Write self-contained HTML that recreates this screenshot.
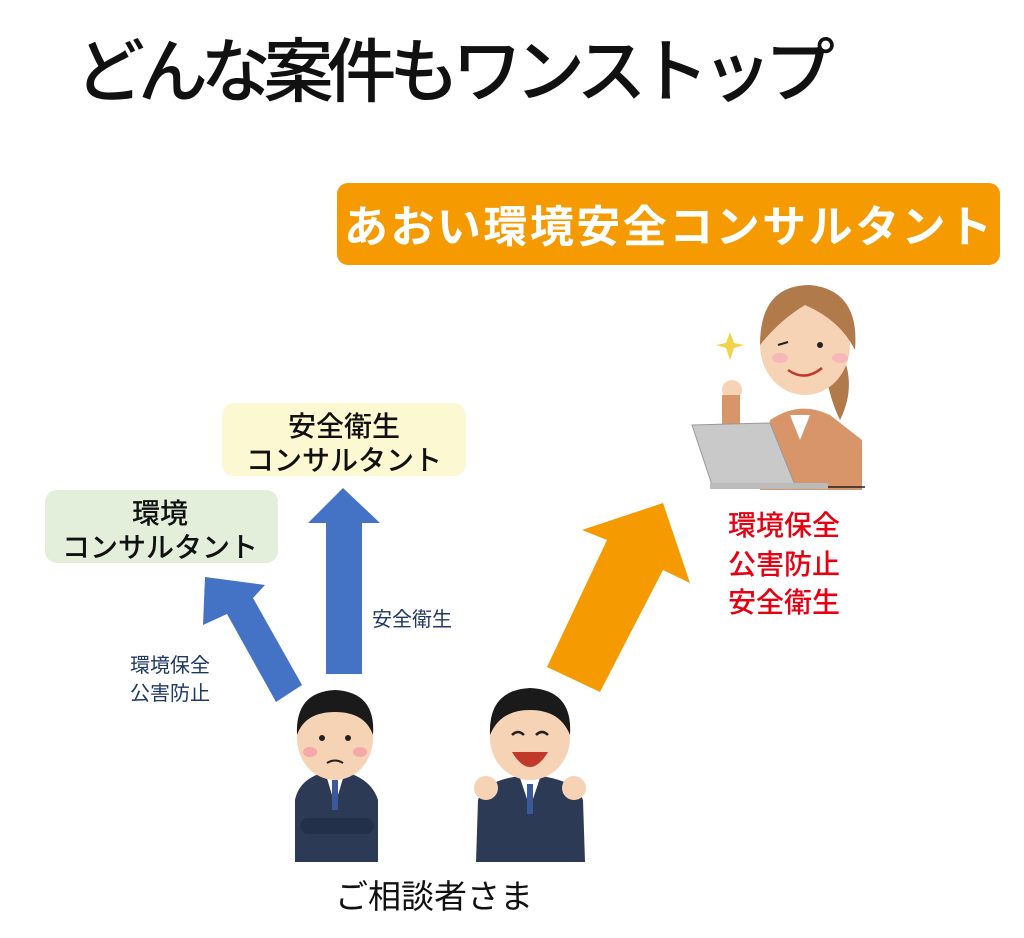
<!DOCTYPE html>
<html><head><meta charset="utf-8"><style>
html,body{margin:0;padding:0;background:#fff;}
svg{display:block}
text{font-family:"Liberation Sans","Noto Sans CJK JP",sans-serif;}
</style></head><body>
<svg width="1024" height="938" viewBox="0 0 1024 938">
<text x="75" y="96" font-size="70" font-weight="500" fill="#111" textLength="760">どんな案件もワンストップ</text>
<rect x="337" y="183" width="663" height="82" rx="11" fill="#f59a00"/>
<text x="344" y="242" font-size="44" font-weight="bold" fill="#fff" textLength="648">あおい環境安全コンサルタント</text>
<rect x="222" y="403" width="244" height="73" rx="12" fill="#fcf9d2"/>
<text x="344" y="436" font-size="28" font-weight="500" text-anchor="middle" fill="#111">安全衛生</text>
<text x="344" y="470" font-size="28" font-weight="500" text-anchor="middle" fill="#111">コンサルタント</text>
<rect x="45" y="490" width="233" height="73" rx="12" fill="#e3eedb"/>
<text x="160" y="523" font-size="28" font-weight="500" text-anchor="middle" fill="#111">環境</text>
<text x="160" y="557" font-size="28" font-weight="500" text-anchor="middle" fill="#111">コンサルタント</text>
<polygon points="343,488 380,523 362,523 362,674 326,674 326,523 308,523" fill="#4472c4"/>
<polygon points="205,577 265,585 253,598 302,685 276,702 227,614 203,625" fill="#4472c4"/>
<polygon points="663,503 690,583 663,570 600,692 547,667 607,540 582,530" fill="#f59a00"/>
<text x="130" y="672" font-size="20" fill="#1f3864">環境保全</text>
<text x="130" y="700" font-size="20" fill="#1f3864">公害防止</text>
<text x="372" y="626" font-size="20" fill="#1f3864">安全衛生</text>
<text x="728" y="535" font-size="28" font-weight="500" fill="#e60012">環境保全</text>
<text x="728" y="574" font-size="28" font-weight="500" fill="#e60012">公害防止</text>
<text x="728" y="612" font-size="28" font-weight="500" fill="#e60012">安全衛生</text>
<text x="335" y="908" font-size="33" fill="#111">ご相談者さま</text>
<!-- man 1 -->
<g>
<path d="M295,862 L295,800 Q300,775 335,770 Q370,775 378,800 L378,862 Z" fill="#2c3a55"/>
<polygon points="326,775 344,775 335,805" fill="#fff"/>
<rect x="332" y="780" width="6" height="30" fill="#3b5998"/>
<rect x="300" y="818" width="74" height="16" rx="8" fill="#233049"/>
<ellipse cx="335" cy="738" rx="38" ry="42" fill="#f7d3b5"/>
<path d="M297,735 Q295,692 335,690 Q376,692 373,735 Q365,712 335,712 Q305,712 297,735Z" fill="#1a1a1a"/>
<ellipse cx="310" cy="752" rx="7" ry="5" fill="#f5a8a8"/><ellipse cx="360" cy="752" rx="7" ry="5" fill="#f5a8a8"/>
<circle cx="322" cy="738" r="3" fill="#222"/><circle cx="348" cy="738" r="3" fill="#222"/>
<path d="M327,763 Q335,758 343,763" stroke="#222" stroke-width="2" fill="none"/>
</g>
<!-- man 2 -->
<g>
<path d="M476,862 L478,800 Q485,778 530,775 Q575,778 583,800 L585,862 Z" fill="#2c3a55"/>
<polygon points="520,778 540,778 530,808" fill="#fff"/>
<rect x="527" y="784" width="6" height="30" fill="#3b5998"/>
<ellipse cx="530" cy="738" rx="40" ry="42" fill="#f7d3b5"/>
<path d="M490,735 Q488,690 530,688 Q573,690 570,735 Q560,710 530,710 Q500,710 490,735Z" fill="#1a1a1a"/>
<path d="M512,752 Q530,782 548,752 Z" fill="#c0392b"/>
<path d="M512,735 Q518,729 524,735 M536,735 Q542,729 548,735" stroke="#222" stroke-width="2.5" fill="none"/>
<circle cx="486" cy="788" r="12" fill="#f7d3b5"/><circle cx="574" cy="788" r="12" fill="#f7d3b5"/>
</g>
<!-- woman -->
<g>
<path d="M835,340 Q860,380 840,420 Q830,400 825,370Z" fill="#b07a4a"/>
<path d="M760,490 L770,420 Q800,400 830,415 L862,440 L862,490Z" fill="#d9956a"/>
<polygon points="790,415 810,415 800,440" fill="#fff"/>
<ellipse cx="805" cy="345" rx="45" ry="50" fill="#f7d3b5"/>
<path d="M760,345 Q760,285 810,285 Q860,290 855,350 Q840,320 805,305 Q780,320 760,345Z" fill="#b07a4a"/>
<ellipse cx="780" cy="358" rx="8" ry="5" fill="#f5b8b8"/><ellipse cx="840" cy="358" rx="8" ry="5" fill="#f5b8b8"/>
<path d="M788,370 Q805,382 822,368" stroke="#c0392b" stroke-width="2.5" fill="none"/>
<circle cx="820" cy="345" r="3" fill="#222"/>
<path d="M778,345 L788,342" stroke="#222" stroke-width="2"/>
<circle cx="732" cy="390" r="10" fill="#f7d3b5"/>
<rect x="722" y="395" width="18" height="30" fill="#d9956a"/>
<path d="M730,332 L734,343 L744,345 L734,348 L730,360 L726,348 L716,345 L726,343Z" fill="#f2d24a"/>
<polygon points="692,425 770,423 795,485 712,485" fill="#c9c9c9" stroke="#999"/>
<rect x="710" y="483" width="118" height="6" fill="#bbb"/>
<line x1="828" y1="487" x2="865" y2="487" stroke="#222" stroke-width="1.5"/>
</g>
</svg>
</body></html>
